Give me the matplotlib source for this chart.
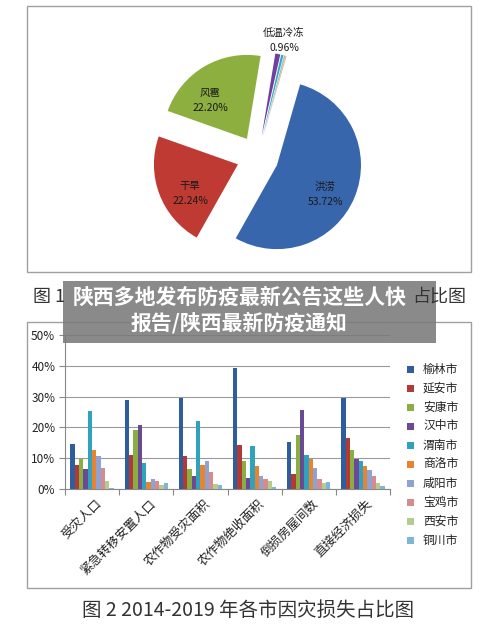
import matplotlib
matplotlib.use("Agg")
import matplotlib.pyplot as plt
from matplotlib.patches import Rectangle
import numpy as np

plt.rcParams['font.family'] = ['Noto Sans CJK SC', 'DejaVu Sans']

# ---- data ----
pie_names = ['洪涝', '干旱', '风雹', '低温冷冻', '其他1', '其他2', '其他3']
pie_pct = [53.72, 22.24, 22.20, 0.96, 0.45, 0.30, 0.13]
pie_colors = ['#3766AC', '#BE3A33', '#8DAF3F', '#7040A0', '#3FA6C4', '#8CC8D8', '#F09040']

categories = ['受灾人口', '紧急转移安置人口', '农作物受灾面积', '农作物绝收面积', '倒损房屋间数', '直接经济损失']
cities = ['榆林市', '延安市', '安康市', '汉中市', '渭南市', '商洛市', '咸阳市', '宝鸡市', '西安市', '铜川市']
yulin = [14.7, 28.8, 29.7, 39.3, 15.1, 29.7]
yanan = [7.8, 10.9, 10.7, 14.2, 4.7, 16.6]
ankang = [9.8, 19.0, 6.3, 9.1, 17.5, 12.7]
hanzhong = [6.3, 20.7, 4.0, 3.5, 25.6, 9.8]
weinan = [25.3, 8.5, 22.1, 13.9, 10.9, 8.9]
shangluo = [12.6, 2.2, 7.6, 7.4, 9.8, 7.4]
xianyang = [10.6, 3.0, 9.1, 4.3, 6.9, 6.0]
baoji = [6.9, 2.5, 5.4, 3.2, 3.3, 4.0]
xian = [2.4, 1.1, 1.4, 2.4, 1.8, 1.8]
tongchuan = [0.3, 2.0, 1.1, 0.5, 2.3, 0.9]
series = [yulin, yanan, ankang, hanzhong, weinan, shangluo, xianyang, baoji, xian, tongchuan]
bar_colors = ['#2F5E9E', '#B03A36', '#8AAE42', '#6A4A94', '#2FA2BE', '#E8832F',
              '#8EA3D4', '#D48D8C', '#B6CC8F', '#7FB6D6']
yticks = [0, 10, 20, 30, 40, 50]

W, H = 500, 625
fig = plt.figure(figsize=(5, 6.25), dpi=100)
fig.patch.set_facecolor('white')

# ---- pie (pixel units, y up) ----
axp = fig.add_axes([0, 0, 1, 1])
cx, cy, r = 257.6, H - 157, 84
axp.pie(pie_pct, colors=pie_colors, startangle=74, counterclock=False,
        center=(cx, cy), radius=r, explode=[21] * len(pie_pct),
        wedgeprops=dict(linewidth=0))
axp.set_xlim(0, W)
axp.set_ylim(0, H)
axp.set_aspect('equal')
axp.axis('off')

# ---- bar chart ----
axb = fig.add_axes([65 / W, 1 - 488.7 / H, 325 / W, (488.7 - 335.3) / H])
n = len(series)
bw = 0.08
x = np.arange(len(categories)) + 0.5
for i, (vals, c) in enumerate(zip(series, bar_colors)):
    axb.bar(x + (i - (n - 1) / 2) * bw, vals, width=bw, color=c, linewidth=0, zorder=3)
axb.set_xlim(0, len(categories))
axb.set_ylim(0, 50)
axb.set_yticks(yticks)
axb.set_yticklabels([f'{v}%' for v in yticks], fontsize=8.5, color='#222222')
axb.yaxis.grid(True, color='#9a9a9a', linewidth=0.8, zorder=0)
axb.set_xticks(np.arange(len(categories) + 1))
axb.set_xticklabels([])
axb.tick_params(axis='x', length=4, color='#888888', direction='out')
axb.tick_params(axis='y', length=4, color='#888888', pad=3)
for s in ['top', 'right']:
    axb.spines[s].set_visible(False)
for s in ['left', 'bottom']:
    axb.spines[s].set_color('#888888')
for xc, lab in zip(x, categories):
    axb.annotate(lab, xy=(xc, 0), xycoords=('data', 'axes fraction'),
                 xytext=(2, -6), textcoords='offset points',
                 rotation=45, rotation_mode='anchor', ha='right', va='top',
                 fontsize=9, color='#222222')

# ---- overlay (pixel units, y down) ----
axo = fig.add_axes([0, 0, 1, 1], zorder=10)
axo.set_xlim(0, W)
axo.set_ylim(H, 0)
axo.axis('off')
axo.patch.set_alpha(0)

# frames
axo.add_patch(Rectangle((27, 6), 444, 266, fill=False, edgecolor='#a0a0a0', linewidth=1))
axo.add_patch(Rectangle((27, 322), 444, 266, fill=False, edgecolor='#a0a0a0', linewidth=1))

# pie labels
lab_pos = [(325, 187), (190, 186), (210, 93), (284, 33)]
for (px, py), name, pct in zip(lab_pos, pie_names, pie_pct):
    axo.text(px, py, name, ha='center', va='center', fontsize=7.5, color='#1a1a1a')
    axo.text(px, py + 15, f'{pct:.2f}%', ha='center', va='center', fontsize=7.5, color='#1a1a1a')

# legend
for i, (name, c) in enumerate(zip(cities, bar_colors)):
    yy = 369 + 19 * i
    axo.add_patch(Rectangle((407, yy - 3.5), 7, 7, facecolor=c, edgecolor='none'))
    axo.text(423, yy, name, ha='left', va='center', fontsize=8.5, color='#222222')

# captions (middle of figure 1 caption is hidden by the banner)
axo.text(33, 297, '图 1', ha='left', va='center', fontsize=13, color='#333333')
axo.text(466, 297, '占比图', ha='right', va='center', fontsize=13, color='#333333')
axo.text(248, 610, '图 2 2014-2019 年各市因灾损失占比图', ha='center', va='center',
         fontsize=14, color='#333333')

# banner
axo.add_patch(Rectangle((63, 281), 373, 62, facecolor='#7a7a7a', alpha=0.88, edgecolor='none'))
axo.text(240, 297, '陕西多地发布防疫最新公告这些人快', ha='center', va='center',
         fontsize=15, fontweight='bold', color='white')
axo.text(239, 323, '报告/陕西最新防疫通知', ha='center', va='center',
         fontsize=15, fontweight='bold', color='white')

fig.savefig('out.png', dpi=100)
